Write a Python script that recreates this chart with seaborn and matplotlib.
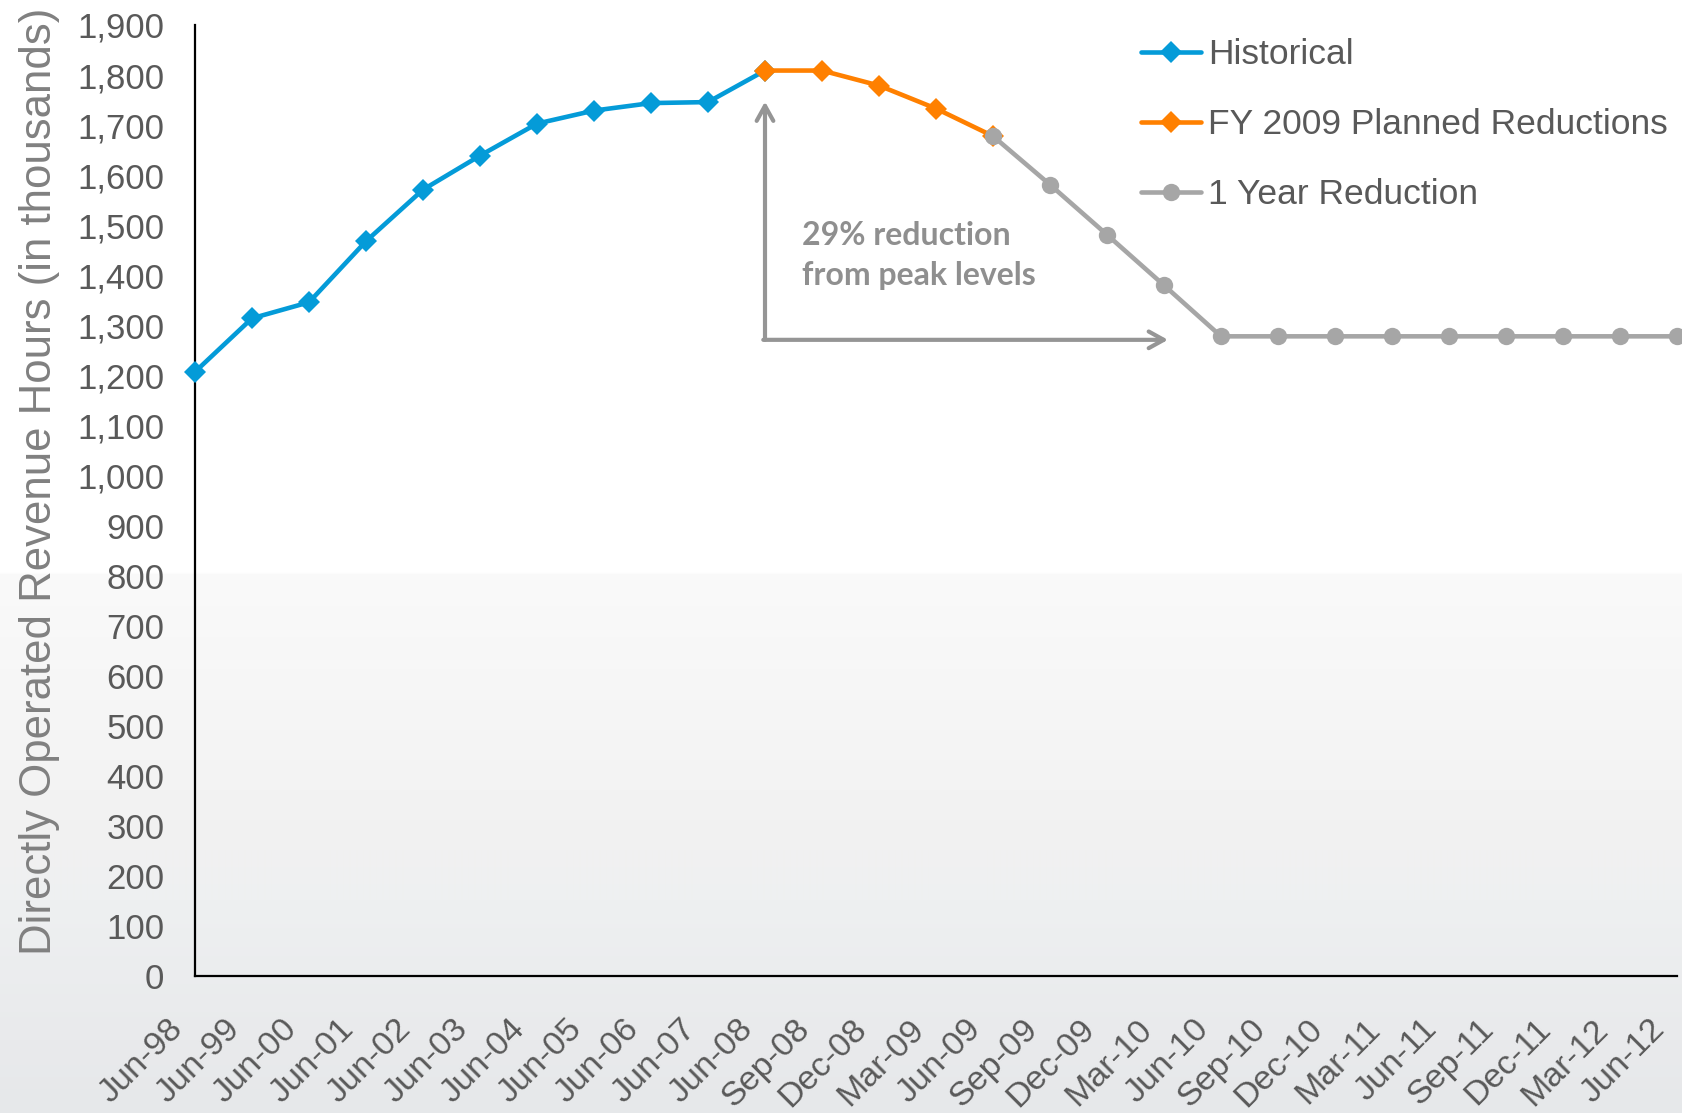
import numpy as np
import pandas as pd
import matplotlib
matplotlib.use("Agg")
import matplotlib.pyplot as plt
import matplotlib.transforms as mtransforms
import seaborn as sns

# ---- data -------------------------------------------------------------
periods = ["Jun-98", "Jun-99", "Jun-00", "Jun-01", "Jun-02", "Jun-03", "Jun-04",
           "Jun-05", "Jun-06", "Jun-07", "Jun-08", "Sep-08", "Dec-08", "Mar-09",
           "Jun-09", "Sep-09", "Dec-09", "Mar-10", "Jun-10", "Sep-10", "Dec-10",
           "Mar-11", "Jun-11", "Sep-11", "Dec-11", "Mar-12", "Jun-12"]

historical_periods = periods[0:11]
historical_hours = [1207, 1314, 1346, 1468, 1571, 1639, 1703, 1729, 1744, 1746, 1809]

planned_periods = periods[10:15]
planned_hours = [1809, 1809, 1779, 1733, 1678]

one_year_periods = periods[14:27]
one_year_hours = [1678, 1581, 1481, 1380, 1278, 1278, 1278, 1278, 1278,
                  1278, 1278, 1278, 1278]

series_names = ["Historical", "FY 2009 Planned Reductions", "1 Year Reduction"]
y_ticks = list(range(0, 2000, 100))

# ---- styling ----------------------------------------------------------
sns.set_theme(style="white")
plt.rcParams["font.family"] = ["Liberation Sans", "DejaVu Sans"]

BLUE = "#049bd8"
ORANGE = "#ff8000"
GREY = "#a6a6a6"
TEXT = "#595959"
NOTE = "#8f8f8f"

W, H = 1682, 1113
fig = plt.figure(figsize=(W / 100, H / 100), dpi=100)

# soft grey wash over the lower part of the slide
bg = fig.add_axes([0, 0, 1, 1], zorder=-10)
rows = np.arange(H)
stops_y = [0, 572, 574, 700, 850, 900, 1040, H]
stops_c = np.array([[255, 255, 255], [255, 255, 255], [250, 250, 250],
                    [246, 246, 246], [241, 241, 241], [238, 240, 241],
                    [233, 234, 236], [230, 232, 234]]) / 255.0
grad = np.stack([np.interp(rows, stops_y, stops_c[:, k]) for k in range(3)], axis=-1)
grad = np.repeat(grad[:, None, :], 4, axis=1)
bg.imshow(grad, aspect="auto", extent=[0, 1, 0, 1], interpolation="bilinear")
bg.axis("off")

ax = fig.add_axes([195 / W, 1 - 976 / H, (1677 - 195) / W, (976 - 25) / H])
ax.set_facecolor("none")

pos = {p: i for i, p in enumerate(periods)}

frames = [
    pd.DataFrame({"x": [pos[p] for p in historical_periods], "hours": historical_hours,
                  "series": series_names[0]}),
    pd.DataFrame({"x": [pos[p] for p in planned_periods], "hours": planned_hours,
                  "series": series_names[1]}),
    pd.DataFrame({"x": [pos[p] for p in one_year_periods], "hours": one_year_hours,
                  "series": series_names[2]}),
]
styles = [
    dict(color=BLUE, marker="D", markersize=11.5),
    dict(color=ORANGE, marker="D", markersize=11.5),
    dict(color=GREY, marker="o", markersize=12.5),
]
for df, st, z in zip(frames, styles, [3, 4, 5]):
    sns.lineplot(data=df, x="x", y="hours", ax=ax, label=df["series"].iloc[0],
                 color=st["color"], marker=st["marker"], markersize=st["markersize"],
                 markeredgewidth=0, linewidth=3.3, zorder=z, clip_on=False)

ax.set_xlim(0, len(periods) - 1)
ax.set_ylim(0, 1900)
ax.set_yticks(y_ticks)
ax.set_yticklabels([f"{v:,}" for v in y_ticks])
ax.set_xticks(range(len(periods)))
ax.set_xticklabels(periods, rotation=45, ha="right", va="center",
                   rotation_mode="anchor")
ax.set_xlabel("")

for side in ["top", "right"]:
    ax.spines[side].set_visible(False)
for side in ["left", "bottom"]:
    ax.spines[side].set_color("black")
    ax.spines[side].set_linewidth(1.6)

ax.tick_params(axis="both", which="major", direction="out", length=9, width=1.5,
               color="black", labelcolor=TEXT)
ax.tick_params(axis="y", labelsize=25, pad=13)
ax.tick_params(axis="x", labelsize=24.5, pad=26)
offset = mtransforms.ScaledTranslation(-17 / 100, 0, fig.dpi_scale_trans)
for lab in ax.get_xticklabels():
    lab.set_transform(lab.get_transform() + offset)

ax.set_ylabel("Directly Operated Revenue Hours (in thousands)", fontsize=31.5,
              color="#808080")
ax.yaxis.set_label_coords(-0.105, 0.52)
ax.yaxis.label.set_va("center")

# annotation: drop from peak
arrow_kw = dict(arrowstyle="->,head_length=0.9,head_width=0.5", color="#959595",
                lw=3, shrinkA=0, shrinkB=0)
peak_x = pos["Jun-08"]
ax.annotate("", xy=(peak_x, 1747), xytext=(peak_x, 1271), arrowprops=arrow_kw)
ax.annotate("", xy=(17.07, 1271), xytext=(peak_x - 0.03, 1271), arrowprops=arrow_kw)
ax.text(10.65, 1508, "29% reduction\nfrom peak levels", fontsize=23,
        color=NOTE, family=["Lato", "DejaVu Sans"], weight="bold", va="top",
        ha="left", linespacing=1.45)

leg = ax.legend(loc="upper left", bbox_to_anchor=(1141 / W, 1 - 38 / H),
                bbox_transform=fig.transFigure, frameon=False, fontsize=25.5,
                handlelength=1.7, handletextpad=0.2, labelspacing=1.05,
                borderpad=0, borderaxespad=0)
for t in leg.get_texts():
    t.set_color(TEXT)

fig.savefig("out.png", dpi=100)
